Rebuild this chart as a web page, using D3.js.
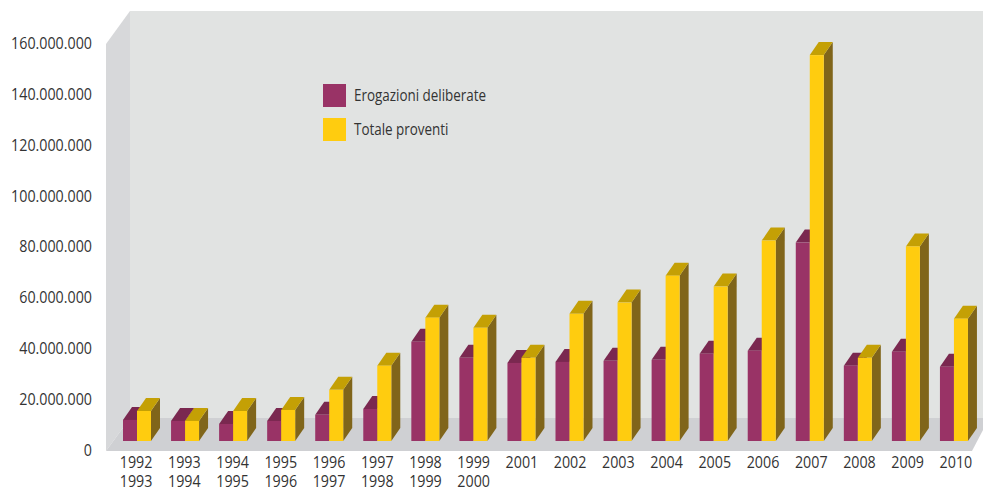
<!DOCTYPE html>
<html>
<head>
<meta charset="utf-8">
<script src="https://cdn.jsdelivr.net/npm/d3@7"></script>
<style>
  html, body { margin: 0; padding: 0; background: #fff; }
  text { font-family: "Open Sans", sans-serif; fill: #333; }
</style>
</head>
<body>
<script>
const periods = ['1992/1993', '1993/1994', '1994/1995', '1995/1996', '1996/1997', '1997/1998',
                 '1998/1999', '1999/2000', '2001', '2002', '2003', '2004', '2005', '2006',
                 '2007', '2008', '2009', '2010'];

const erogazioni = [8.3, 7.9, 6.7, 7.9, 10.3, 12.6, 39.0, 32.7, 30.7, 31.1, 31.5, 31.9, 34.3,
                    35.5, 78.0, 29.6, 35.1, 29.2].map(v => v * 1e6);

const proventi = [11.8, 7.9, 11.8, 12.2, 20.1, 29.6, 48.5, 44.5, 32.7, 50.0, 54.4, 65.0, 60.7,
                  78.8, 151.7, 32.7, 76.5, 48.1].map(v => v * 1e6);

const yTicks = [0, 20, 40, 60, 80, 100, 120, 140, 160].map(v => v * 1e6);

const seriesNames = ['Erogazioni deliberate', 'Totale proventi'];

const width = 983;
const height = 488;
const depthX = 9;
const depthY = 13;
const barWidth = 14;
const squeeze = 0.84;

const colors = [
    { front: '#993366', top: '#7a2850', side: '#6e2549' },
    { front: '#ffcc0f', top: '#c4a005', side: '#80651a' }
];

const svg = d3.select('body')
              .append('svg')
              .attr('width', width)
              .attr('height', height)
              .style('display', 'block');

const y = d3.scaleLinear().domain([0, 160e6]).range([450, 43]);
const x = d3.scaleBand().domain(periods).range([113, 978]).padding(0);
// labels are spaced slightly wider than the bars
const xLabels = d3.scaleBand().domain(periods).range([113, 981]).padding(0);

// walls and floor
svg.append('polygon').attr('points', '130,11 983,11 983,418 130,418').style('fill', '#e1e3e2');
svg.append('polygon').attr('points', '106,44 130,11 130,418 106,451').style('fill', '#d7d8da');
svg.append('polygon').attr('points', '106,451 130,418 983,418 983,430 972,451').style('fill', '#cfd0d3');

// bars sit further back than the axis, so they are shifted up by the floor offset
const barsBase = svg.append('g').attr('transform', 'translate(0,-9)');

const appendBar = (group, d, xLeft, c) => {
    const top = y(d);
    const bottom = y(0);
    const right = xLeft + barWidth;
    group.append('polygon')
        .attr('points', `${right},${top} ${right + depthX},${top - depthY} ${right + depthX},${bottom - depthY} ${right},${bottom}`)
        .style('fill', c.side);
    group.append('polygon')
        .attr('points', `${xLeft},${top} ${xLeft + depthX},${top - depthY} ${right + depthX},${top - depthY} ${right},${top}`)
        .style('fill', c.top);
    group.append('rect')
        .attr('x', xLeft)
        .attr('y', top)
        .attr('width', barWidth)
        .attr('height', bottom - top)
        .style('fill', c.front);
};

barsBase.selectAll('.group')
    .data(periods)
    .enter()
    .append('g')
    .attr('class', 'group')
    .each(function (p, i) {
        const g = d3.select(this);
        const left = x(p) + 10;
        appendBar(g, erogazioni[i], left, colors[0]);
        appendBar(g, proventi[i], left + barWidth, colors[1]);
    });

// y axis
const yAxis = svg.append('g')
    .attr('transform', 'translate(92,0)')
    .call(d3.axisLeft(y)
        .tickValues(yTicks)
        .tickSize(0)
        .tickPadding(0)
        .tickFormat(d => d3.format(',')(d).replace(/,/g, '.')));
yAxis.select('.domain').remove();
yAxis.selectAll('text')
    .style('font-size', '17px')
    .style('font-family', '"Open Sans", sans-serif')
    .style('fill', '#333')
    .attr('x', 0)
    .attr('transform', `scale(${squeeze},1)`);

// x axis
const xAxis = svg.append('g')
    .attr('transform', 'translate(-1,452)')
    .call(d3.axisBottom(xLabels).tickSize(0).tickPadding(0));
xAxis.select('.domain').remove();
xAxis.selectAll('text')
    .style('font-size', '17px')
    .style('font-family', '"Open Sans", sans-serif')
    .style('fill', '#333')
    .attr('y', 0)
    .attr('dy', null)
    .attr('transform', `scale(${squeeze},1)`)
    .each(function (p) {
        const t = d3.select(this).text('');
        p.split('/').forEach((line, i) => {
            t.append('tspan')
                .attr('x', 0)
                .attr('y', 16 + i * 19)
                .text(line);
        });
    });

// legend
const legend = svg.selectAll('.legend')
    .data(seriesNames)
    .enter()
    .append('g')
    .attr('class', 'legend')
    .attr('transform', (d, i) => `translate(323,${84 + i * 34})`);

legend.append('rect')
    .attr('width', 23)
    .attr('height', 23)
    .style('fill', (d, i) => colors[i].front);

legend.append('text')
    .attr('transform', 'translate(31,17) scale(0.79,1)')
    .style('font-size', '17px')
    .text(d => d);
</script>
</body>
</html>
